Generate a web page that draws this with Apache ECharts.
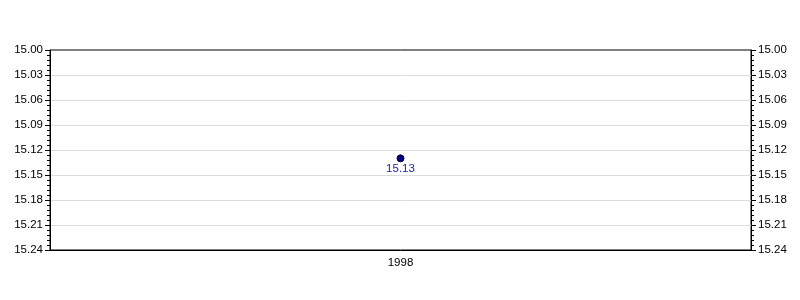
<!DOCTYPE html>
<html><head><meta charset="utf-8">
<script src="https://cdn.jsdelivr.net/npm/echarts@6/dist/echarts.min.js"></script>
<style>html,body{margin:0;padding:0;background:#fff}#c{width:800px;height:300px}</style>
</head><body><div id="c"></div>
<script>
const categories = ['1998'];
const values = [15.13];
const yMin = 15.00, yMax = 15.24, yStep = 0.03;

const chart = echarts.init(document.getElementById('c'), null, {renderer:'canvas'});
const lbl = {color:'#000', fontFamily:'Liberation Sans', fontSize:11.5};
const yAxisBase = {
  type:'value', inverse:true, min:yMin, max:yMax, interval:yStep,
  axisLine:{show:true, lineStyle:{color:'#000', width:1}},
  axisTick:{show:true, length:5, inside:false, lineStyle:{color:'#000'}},
  minorTick:{show:true, splitNumber:5, length:3, lineStyle:{color:'#000'}},
  axisLabel:Object.assign({formatter:v=>v.toFixed(2), margin:7}, lbl),
};
chart.setOption({
  animation:false,
  grid:{left:50, right:49, top:50, bottom:50, show:true, borderColor:'#000', borderWidth:1, backgroundColor:'transparent'},
  xAxis:{type:'category', data:categories, boundaryGap:true,
    axisLine:{lineStyle:{color:'#000'}},
    axisTick:{alignWithLabel:true, length:5, lineStyle:{color:'#000'}},
    axisLabel:Object.assign({margin:7}, lbl),
    splitLine:{show:false}},
  yAxis:[
    Object.assign({}, yAxisBase, {position:'left', splitLine:{show:true, showMinLine:false, showMaxLine:false, lineStyle:{color:'#dcdcdc'}}}),
    Object.assign({}, yAxisBase, {position:'right', splitLine:{show:false}})
  ],
  series:[{type:'line', data:values, yAxisIndex:0, symbol:'circle', symbolSize:7,
    itemStyle:{color:'#000080', borderColor:'#000033', borderWidth:1},
    label:{show:true, position:'bottom', distance:0, color:'#2424b0', fontFamily:'Liberation Sans', fontSize:11.5, formatter:p=>p.value.toFixed(2)},
    lineStyle:{color:'#000080'}}]
});
</script></body></html>
